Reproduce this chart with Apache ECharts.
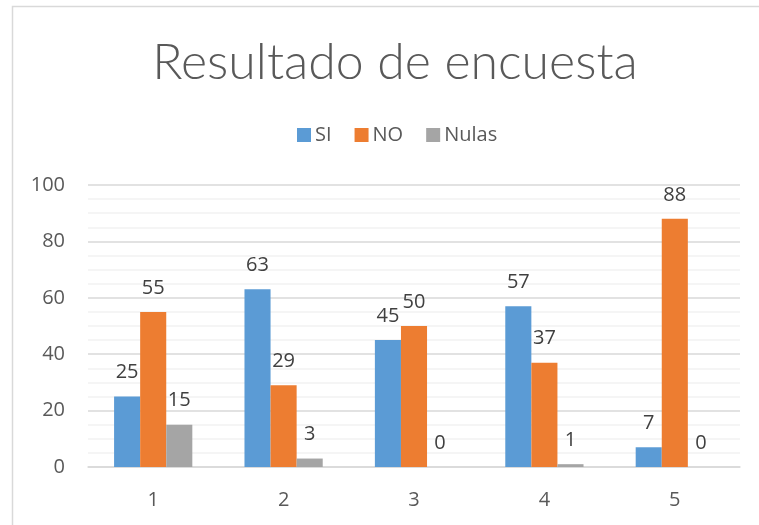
<!DOCTYPE html>
<html>
<head>
<meta charset="utf-8">
<script src="https://cdn.jsdelivr.net/npm/echarts@6/dist/echarts.min.js"></script>
<style>
  html, body { margin: 0; padding: 0; background: #fff; }
  #chart { width: 759px; height: 525px; }
</style>
</head>
<body>
<div id="chart"></div>
<script>
// datos
var categories = ["1", "2", "3", "4", "5"];
var si = [25, 63, 45, 57, 7];
var no = [55, 29, 50, 37, 88];
var nulas = [15, 3, 0, 1, 0];
var yTicks = [0, 20, 40, 60, 80, 100];

var FONT = "Open Sans";
var TXT = "#595959";

var chart = echarts.init(document.getElementById("chart"));

function serie(name, data, color) {
  return {
    name: name,
    type: "bar",
    data: data,
    barGap: 0,
    barCategoryGap: "40%",
    itemStyle: { color: color },
    label: {
      show: true,
      position: "top",
      distance: 14,
      color: "#404040",
      fontFamily: FONT,
      fontSize: 20
    }
  };
}

chart.setOption({
  backgroundColor: "#fff",
  animation: false,
  // marco exterior del grafico
  graphic: [{
    type: "rect",
    shape: { x: 12.5, y: 6.5, width: 760, height: 540 },
    style: { fill: "none", stroke: "#D9D9D9", lineWidth: 1.5 },
    z: -1
  }],
  title: {
    text: "Resultado de encuesta",
    left: 390,
    top: 33,
    textAlign: "center",
    textStyle: {
      fontFamily: "Lato",
      fontWeight: 300,
      fontSize: 50,
      color: TXT
    }
  },
  legend: {
    top: 120,
    left: 292,
    icon: "rect",
    itemWidth: 14,
    itemHeight: 14,
    itemGap: 23,
    textStyle: { fontFamily: FONT, fontSize: 20, color: TXT, padding: [0, 0, 0, -1] },
    data: ["SI", "NO", "Nulas"]
  },
  grid: { left: 88, right: 19, top: 185, bottom: 58 },
  xAxis: {
    type: "category",
    data: categories,
    axisTick: { show: false },
    axisLine: { lineStyle: { color: "#D9D9D9", width: 1.5 } },
    axisLabel: { margin: 23, fontFamily: FONT, fontSize: 20, color: TXT }
  },
  yAxis: {
    type: "value",
    min: yTicks[0],
    max: yTicks[yTicks.length - 1],
    interval: 20,
    axisLine: { show: false },
    axisTick: { show: false },
    axisLabel: { margin: 23, fontFamily: FONT, fontSize: 20, color: TXT },
    splitLine: { lineStyle: { color: "#D9D9D9", width: 1.5 } },
    minorTick: { show: false, splitNumber: 4 },
    minorSplitLine: { show: true, lineStyle: { color: "#F2F2F2", width: 1.5 } }
  },
  series: [
    serie("SI", si, "#5B9BD5"),
    serie("NO", no, "#ED7D31"),
    serie("Nulas", nulas, "#A5A5A5")
  ]
});
</script>
</body>
</html>
